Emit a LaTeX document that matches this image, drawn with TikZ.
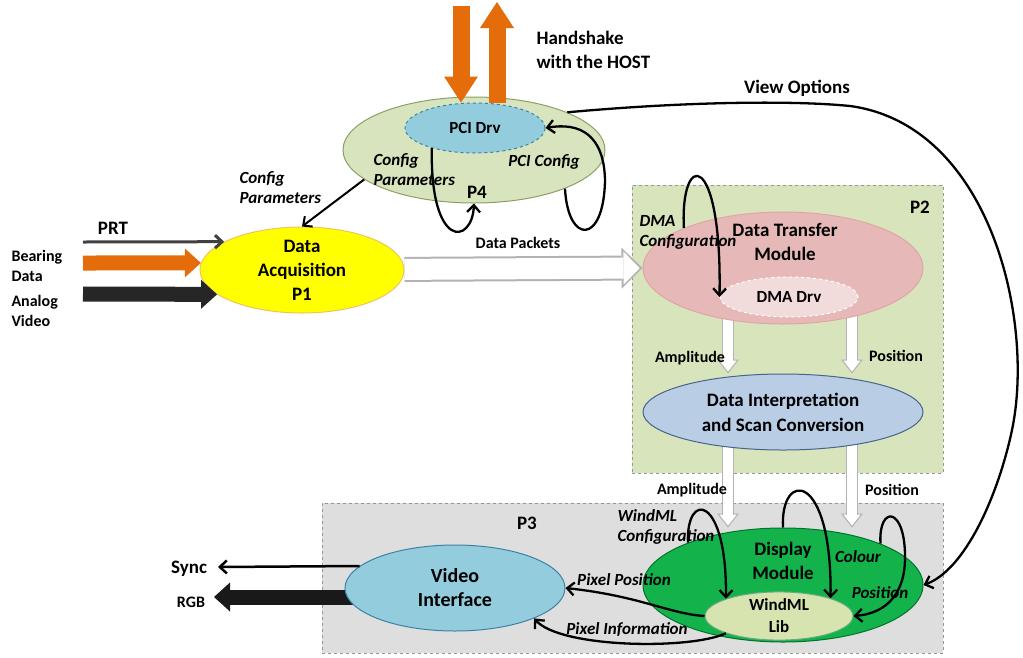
\documentclass[tikz,border=0pt]{standalone}
\usepackage{fontspec}
\setmainfont{Carlito}
\usetikzlibrary{arrows.meta,shapes.geometric}

\pgfdeclarelayer{boxes}
\pgfdeclarelayer{links}
\pgfsetlayers{boxes,links,main}

\definecolor{acqyellow}{RGB}{255,255,0}
\definecolor{acqedge}{RGB}{240,195,90}
\definecolor{hostgreen}{RGB}{215,228,189}
\definecolor{hostedge}{RGB}{140,160,100}
\definecolor{drvblue}{RGB}{147,205,221}
\definecolor{drvedge}{RGB}{60,130,165}
\definecolor{dtmpink}{RGB}{230,185,184}
\definecolor{dtmedge}{RGB}{225,165,165}
\definecolor{dmapink}{RGB}{242,220,219}
\definecolor{discblue}{RGB}{185,205,229}
\definecolor{discedge}{RGB}{70,100,140}
\definecolor{dispgreen}{RGB}{20,178,75}
\definecolor{dispedge}{RGB}{0,115,45}
\definecolor{libgreen}{RGB}{215,228,175}
\definecolor{groupgreen}{RGB}{216,228,188}
\definecolor{groupgray}{RGB}{222,222,222}
\definecolor{groupedge}{RGB}{150,150,150}
\definecolor{handorange}{RGB}{228,108,10}

\begin{document}
\begin{tikzpicture}[x=1pt,y=-1pt,
  proc/.style={ellipse,draw,line width=1pt,inner sep=0pt,align=center},
  groupbox/.style={draw=groupedge,dashed,line width=1pt,inner sep=0pt},
  big/.style={font=\bfseries\fontsize{19}{24}\selectfont,align=center},
  sub/.style={font=\bfseries\fontsize{17}{20}\selectfont,align=center},
  lbl/.style={font=\bfseries\fontsize{16}{20}\selectfont,align=left},
  wide/.style={font=\bfseries\fontsize{19}{24}\selectfont,align=left},
  itl/.style={font=\bfseries\itshape\fontsize{17}{20}\selectfont,align=left},
  cyc/.style={line width=2.3pt,-{Straight Barb[length=7pt,width=13pt]}},
  fat/.style={line width=15pt,-{Triangle[length=16pt,width=29pt,line width=0pt]}},
  handarrow/.style={handorange,line width=17pt,-{Triangle[length=26pt,width=34pt,line width=0pt]}},
  pipeout/.style={draw=black!30,line width=25pt,-{Triangle[length=21pt,width=41pt,line width=0pt]}},
  pipein/.style={draw=white,line width=21pt,shorten >=2.8pt,-{Triangle[length=16.2pt,width=33pt,line width=0pt]}},
  tubeout/.style={draw=black!30,line width=12pt,-{Triangle[length=14pt,width=22pt,line width=0pt]}},
  tubein/.style={draw=white,line width=9.6pt,shorten >=1.9pt,-{Triangle[length=10.9pt,width=17.1pt,line width=0pt]}}]
\useasboundingbox (0,0) rectangle (1023,657);

% group boxes
\begin{pgfonlayer}{boxes}
\node[groupbox,fill=groupgreen,minimum width=311pt,minimum height=288pt] (p2) at (787.5,329) {};
\node[groupbox,fill=groupgray,minimum width=621pt,minimum height=150pt] (p3) at (632.5,578) {};
\end{pgfonlayer}

% processes
\node[proc,fill=hostgreen,draw=hostedge,minimum width=262pt,minimum height=106pt] (p4) at (474,150) {};
\node[proc,dashed,fill=drvblue,draw=drvedge,minimum width=140pt,minimum height=50pt,sub] (pci) at (475,128) {PCI Drv};
\node[proc,fill=acqyellow,draw=acqedge,minimum width=204pt,minimum height=86pt,big] (acq) at (302,270) {Data\\Acquisition\\P1};
\node[proc,fill=dtmpink,draw=dtmedge,minimum width=280pt,minimum height=112pt] (dtm) at (783,268) {};
\node[proc,dashed,fill=dmapink,draw=white,minimum width=138pt,minimum height=40pt,sub] (dma) at (789,297) {DMA Drv};
\node[proc,fill=discblue,draw=discedge,minimum width=280pt,minimum height=76pt,big,font=\bfseries\fontsize{19}{25}\selectfont] (disc) at (783,412) {Data Interpretation\\and Scan Conversion};
\node[proc,fill=dispgreen,draw=dispedge,minimum width=280pt,minimum height=114pt] (dm) at (783,585) {};
\node[proc,fill=libgreen,draw=dispedge!60,minimum width=148pt,minimum height=48pt,sub,font=\bfseries\fontsize{17}{22}\selectfont] (lib) at (779,616) {WindML\\Lib};
\node[proc,fill=drvblue,draw=drvedge,minimum width=220pt,minimum height=86pt,big,font=\bfseries\fontsize{20}{24}\selectfont] (vi) at (455,588) {Video\\Interface};

\node[big] (dtm-txt) at (785,242) {Data Transfer\\Module};
\node[big] (dm-txt) at (783,561) {Display\\Module};
\node[big] (p4-txt) at (477,192) {P4};
\node[big] (p2-txt) at (920,207) {P2};
\node[big] (p3-txt) at (527,523) {P3};

% free ends
\coordinate (prt) at (83,242);
\coordinate (brg) at (83,263);
\coordinate (avid) at (83,294);
\coordinate (sync) at (218,567);
\coordinate (rgb) at (214,597);
\coordinate (hin) at (461,6);
\coordinate (hout) at (497,2);
\coordinate (ampx) at (728,0);
\coordinate (posx) at (852,0);

% wide data paths
\begin{pgfonlayer}{links}
\draw[pipeout] (acq) -- (dtm.west);
\draw[pipein] (acq) -- (dtm.west);
\foreach \c in {ampx,posx} {
  \draw[tubeout] (dtm.center -| \c) -- (disc.north -| \c);
  \draw[tubein] (dtm.center -| \c) -- (disc.north -| \c);
  \draw[tubeout] (disc.center -| \c) -- (dm.north -| \c);
  \draw[tubein] (disc.center -| \c) -- (dm.north -| \c);
}
\draw[fat,black!90] (vi.center |- rgb) -- (rgb);
\end{pgfonlayer}

% inputs and outputs
\draw[cyc,black!75,line width=3pt] (prt) -- (acq.160);
\draw[fat,handorange] (brg) -- (acq.176);
\draw[fat,black!85] (avid) -- (acq.196);
\draw[cyc,line width=2.5pt] (vi.167) -- (sync);
\draw[handarrow] (hin) -- (hin |- pci.north);
\draw[handarrow] (hout |- pci.north) -- (hout);

% control flows
\draw[cyc,line width=2pt] (p4.195) -- (acq.north);
\draw[cyc] (pci.205) .. controls (430,250) and (472,245) .. (p4.south);
\draw[cyc] (p4.-23) .. controls (568,245) and (604,245) .. (605,180) .. controls (604,135) and (580,122) .. (pci.east);
\draw[cyc] (dtm.158) .. controls (680,150) and (722,150) .. (dma.west);
\draw[cyc] (dm.156) .. controls (686,490) and (727,495) .. (lib.162);
\draw[cyc] (dm.north) .. controls (780,470) and (832,470) .. (lib.19);
\draw[cyc] (dm.23) .. controls (878,505) and (906,505) .. (905,560) .. controls (904,600) and (880,614) .. (lib.east);
\draw[cyc] (lib.west) .. controls (670,614) and (640,596) .. (vi.east);
\draw[cyc] (lib.198) .. controls (690,650) and (560,648) .. (vi.-21);
\draw[cyc] (p4.22) .. controls (680,102) and (790,100) .. (850,106) .. controls (990,125) and (1035,320) .. (1012,430) .. controls (998,496) and (965,570) .. (dm.east);

% labels
\node[wide,anchor=west] (host-lbl) at (533,50) {Handshake\\with the HOST};
\node[wide] (view-lbl) at (797,88) {View Options};
\node[itl,anchor=west] (cfg-out) at (236,188) {Config\\Parameters};
\node[itl,anchor=west] (cfg-in) at (370,170) {Config\\Parameters};
\node[itl] (pcicfg) at (544,162) {PCI Config};
\node[wide] (prt-lbl) at (113,228) {PRT};
\node[lbl,anchor=west] (brg-lbl) at (8,266) {Bearing\\Data};
\node[lbl,anchor=west] (avid-lbl) at (8,311) {Analog\\Video};
\node[lbl] (pkt-lbl) at (518,243) {Data Packets};
\node[itl,anchor=west] (dmacfg) at (636,232) {DMA\\Configuration};
\node[lbl] (amp-a) at (690,358) {Amplitude};
\node[lbl] (pos-a) at (896,356) {Position};
\node[lbl] (amp-b) at (692,490) {Amplitude};
\node[lbl] (pos-b) at (892,490) {Position};
\node[itl,anchor=west] (wmlcfg) at (614,527) {WindML\\Configuration};
\node[itl] (colour) at (858,557) {Colour};
\node[itl] (pos-c) at (880,593) {Position};
\node[itl] (pixpos) at (624,580) {Pixel Position};
\node[itl] (pixinf) at (627,630) {Pixel Information};
\node[wide] (sync-lbl) at (189,569) {Sync};
\node[lbl] (rgb-lbl) at (191,602) {RGB};
\end{tikzpicture}
\end{document}
